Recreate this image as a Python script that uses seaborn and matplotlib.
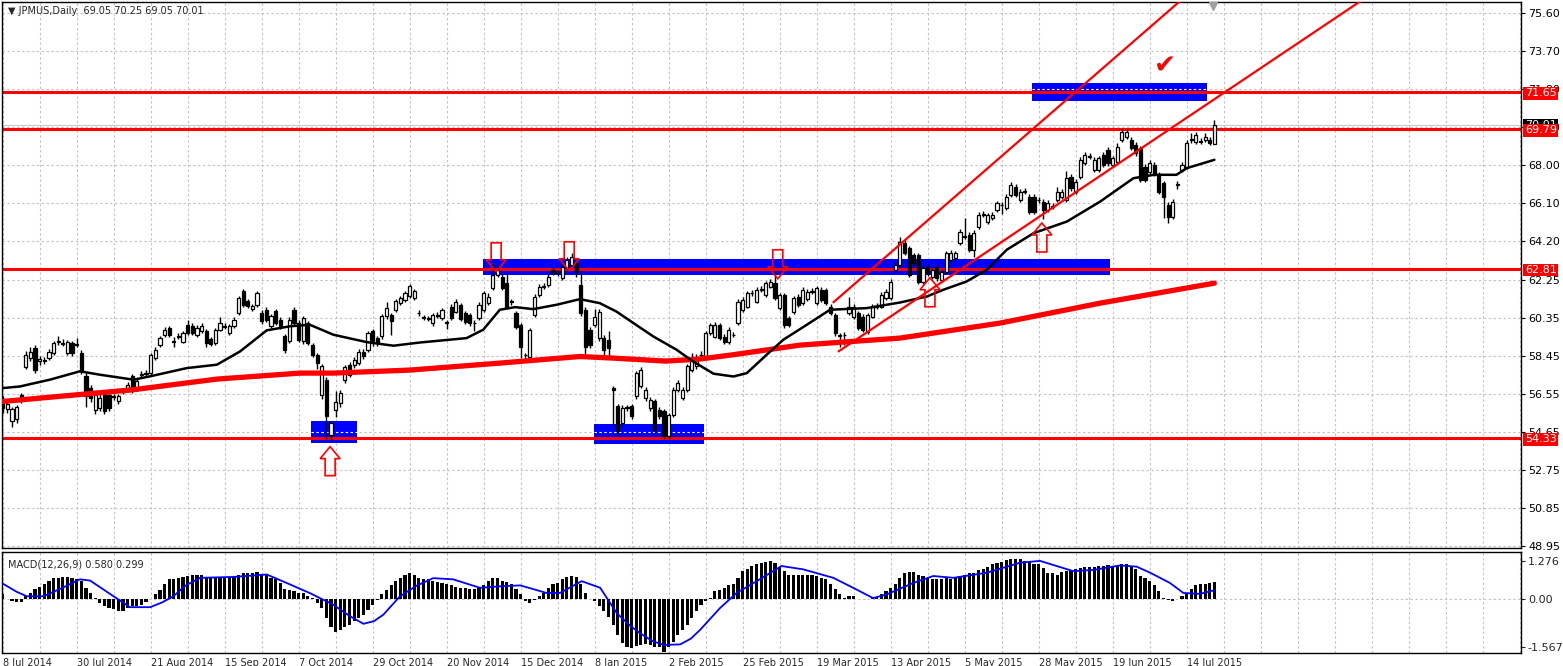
import matplotlib
matplotlib.use("Agg")
import matplotlib.pyplot as plt
import matplotlib.transforms as mtransforms
from matplotlib.patches import Rectangle, Polygon
import numpy as np
import seaborn as sns

# daily candles JPMUS, 8 Jul 2014 - 22 Jul 2015
opens = [
    56.30, 55.80, 55.20, 55.30, 56.50, 57.90, 58.35, 58.85, 58.20, 58.25,
    58.35, 58.60, 59.15, 59.10, 58.60, 59.10, 59.00, 58.60, 57.44, 56.85,
    55.77, 55.85, 56.60, 56.52, 56.44, 56.18, 56.65, 56.77, 57.44, 56.77,
    57.50, 57.55, 57.60, 58.35, 59.02, 59.52, 59.85, 59.20, 59.44, 59.18,
    60.02, 59.94, 59.52, 59.69, 59.69, 59.30, 59.10, 59.77, 59.90, 59.60,
    59.94, 60.60, 61.69, 61.19, 60.80, 61.02, 60.60, 60.77, 59.94, 60.69,
    60.27, 59.44, 59.20, 60.77, 60.10, 59.20, 60.10, 59.02, 58.52, 56.50,
    57.27, 54.52, 55.75, 56.10, 57.27, 58.02, 58.00, 58.10, 58.68, 58.77,
    59.69, 59.35, 59.44, 60.44, 60.50, 60.77, 61.10, 61.27, 61.44, 61.35,
    60.60, 60.40, 60.30, 60.10, 60.50, 60.35, 60.15, 60.93, 60.68, 61.00,
    60.60, 60.50, 60.10, 60.35, 60.77, 61.10, 61.85, 62.50, 62.43, 62.10,
    61.20, 60.60, 60.00, 58.50, 58.43, 60.52, 61.50, 61.93, 62.00, 62.77,
    62.60, 62.35, 62.85, 63.00, 63.10, 62.00, 60.77, 59.77, 60.00, 59.35,
    59.35, 59.27, 56.85, 55.93, 55.10, 55.85, 55.93, 56.43, 56.93, 56.35,
    55.85, 56.18, 55.77, 55.68, 54.43, 55.52, 56.77, 56.35, 56.77, 57.77,
    57.93, 58.50, 58.43, 59.60, 59.43, 60.00, 59.43, 59.18, 59.50, 60.10,
    60.77, 60.93, 61.60, 61.18, 61.77, 61.50, 61.93, 62.10, 60.85, 61.50,
    60.35, 60.68, 61.43, 61.10, 61.30, 61.68, 61.10, 61.77, 61.77, 60.93,
    60.52, 59.50, 59.50, 60.60, 60.43, 60.60, 60.43, 59.68, 60.43, 60.93,
    60.93, 61.35, 61.35, 62.77, 63.00, 64.10, 63.85, 63.50, 63.50, 62.18,
    62.93, 62.43, 62.93, 62.27, 62.68, 63.27, 63.35, 64.10, 64.43, 64.52,
    63.77, 64.93, 65.52, 65.18, 65.35, 65.77, 66.00, 65.85, 66.52, 66.93,
    66.27, 66.68, 66.43, 66.43, 66.27, 66.18, 65.77, 65.93, 66.27, 66.43,
    66.27, 67.43, 66.68, 67.43, 68.10, 68.43, 67.77, 67.77, 68.52, 68.77,
    68.02, 68.18, 69.27, 69.43, 69.27, 69.02, 68.85, 67.93, 67.68, 68.02,
    67.52, 67.10, 66.02, 65.43, 67.02, 67.77, 67.93, 69.27, 69.18, 69.18,
    69.27, 69.27, 69.05]
highs = [
    56.45, 56.20, 55.90, 56.00, 56.60, 58.70, 58.90, 59.00, 58.45, 58.40,
    58.80, 59.20, 59.45, 59.30, 59.25, 59.20, 59.35, 58.75, 57.60, 57.00,
    56.60, 56.55, 56.70, 56.65, 56.55, 56.55, 56.85, 57.15, 57.55, 57.30,
    57.70, 57.75, 58.60, 58.90, 59.45, 59.90, 59.95, 59.40, 59.60, 59.70,
    60.25, 60.10, 60.00, 60.10, 59.80, 59.40, 59.85, 60.40, 60.10, 60.05,
    60.40, 61.45, 61.80, 61.30, 61.05, 61.70, 60.75, 60.90, 60.55, 60.80,
    60.40, 59.55, 60.40, 60.90, 60.25, 60.45, 60.20, 59.10, 58.60, 58.05,
    57.40, 55.20, 56.70, 56.75, 58.00, 58.15, 58.40, 58.80, 58.80, 59.70,
    59.80, 59.45, 60.55, 61.15, 60.60, 61.30, 61.45, 61.70, 62.05, 61.80,
    60.75, 60.50, 60.45, 60.60, 60.65, 60.85, 60.25, 61.05, 61.30, 61.10,
    60.70, 60.60, 60.25, 61.15, 61.70, 61.60, 63.10, 63.00, 62.55, 62.60,
    61.30, 60.70, 60.10, 58.60, 59.85, 61.55, 62.05, 62.10, 62.55, 62.90,
    62.75, 63.05, 63.40, 63.60, 63.20, 62.60, 60.90, 59.90, 60.80, 60.80,
    59.50, 59.70, 56.95, 56.05, 56.00, 56.00, 56.05, 57.70, 57.90, 56.90,
    56.40, 56.30, 55.90, 55.80, 55.60, 56.90, 57.25, 56.90, 58.05, 58.60,
    58.55, 58.70, 59.70, 60.10, 60.15, 60.10, 59.55, 59.90, 59.65, 61.30,
    61.40, 61.70, 61.75, 61.90, 61.95, 62.20, 62.30, 62.68, 61.60, 61.60,
    60.45, 61.45, 61.55, 61.90, 61.80, 61.85, 61.95, 61.90, 61.85, 61.05,
    60.60, 59.60, 59.65, 61.43, 61.05, 60.70, 60.55, 60.60, 61.05, 61.10,
    61.65, 61.80, 62.30, 63.15, 64.43, 64.25, 63.95, 63.60, 63.60, 62.95,
    63.05, 62.90, 63.05, 62.80, 63.70, 63.75, 63.70, 64.80, 65.35, 64.65,
    64.75, 65.65, 65.70, 65.60, 65.65, 66.20, 66.15, 66.55, 67.15, 67.05,
    66.80, 66.85, 66.55, 66.55, 66.40, 66.30, 66.25, 66.10, 66.90, 66.80,
    67.70, 67.55, 67.30, 68.40, 68.65, 68.60, 68.40, 68.45, 68.65, 68.90,
    68.45, 69.10, 69.80, 69.80, 69.40, 69.15, 68.95, 68.05, 68.25, 68.15,
    67.65, 67.20, 66.15, 66.30, 67.20, 68.15, 69.25, 69.60, 69.65, 69.35,
    69.60, 69.40, 70.25]
lows = [
    55.60, 55.60, 54.90, 55.10, 56.10, 57.80, 58.20, 57.60, 58.00, 58.05,
    58.25, 58.50, 59.00, 58.95, 58.50, 58.45, 58.90, 57.55, 55.90, 56.15,
    55.55, 55.70, 55.55, 55.70, 56.25, 56.05, 56.55, 56.65, 56.60, 56.70,
    57.40, 57.45, 57.50, 58.25, 58.90, 59.40, 59.40, 58.90, 59.30, 59.10,
    59.50, 59.50, 59.40, 59.60, 58.90, 58.95, 59.00, 59.70, 59.80, 59.50,
    59.85, 60.50, 60.90, 60.85, 60.70, 60.90, 60.05, 60.15, 59.85, 60.00,
    59.80, 58.60, 59.10, 60.00, 59.15, 59.05, 59.00, 58.40, 57.80, 56.30,
    54.30, 54.20, 55.40, 55.90, 57.10, 57.40, 57.85, 58.00, 58.30, 58.65,
    58.95, 58.95, 59.30, 60.30, 59.50, 60.65, 61.00, 61.15, 61.35, 61.25,
    60.45, 60.25, 60.20, 59.95, 60.35, 60.25, 59.80, 60.25, 60.60, 60.20,
    60.05, 59.95, 59.70, 60.25, 60.65, 61.00, 61.75, 62.40, 61.75, 60.80,
    61.00, 59.80, 58.35, 58.30, 58.35, 60.40, 61.40, 61.80, 61.90, 62.50,
    62.45, 62.25, 62.75, 62.90, 62.40, 60.45, 58.40, 58.85, 59.90, 59.20,
    58.40, 58.45, 55.00, 54.50, 54.95, 55.70, 55.30, 56.30, 56.85, 56.20,
    55.70, 54.60, 55.30, 54.30, 54.30, 55.40, 56.65, 56.25, 56.65, 57.65,
    57.80, 58.40, 58.35, 59.50, 59.35, 59.25, 59.05, 59.05, 59.40, 60.00,
    60.65, 60.85, 61.45, 61.10, 61.65, 61.40, 61.85, 61.25, 60.75, 59.85,
    59.90, 60.55, 60.90, 61.00, 61.20, 61.55, 61.00, 61.15, 61.00, 60.50,
    59.45, 58.93, 59.00, 60.50, 60.30, 59.75, 59.65, 59.55, 60.35, 60.80,
    60.85, 61.25, 61.25, 62.65, 62.90, 63.50, 62.40, 62.95, 62.05, 62.05,
    62.45, 62.30, 62.20, 62.15, 62.55, 63.15, 63.25, 64.00, 64.30, 63.65,
    63.40, 64.80, 65.40, 65.05, 65.25, 65.65, 65.55, 65.75, 66.40, 66.40,
    66.15, 66.55, 65.55, 65.55, 66.10, 65.30, 65.65, 65.80, 66.15, 66.30,
    66.15, 66.70, 66.55, 67.30, 68.00, 68.30, 67.65, 67.65, 67.90, 67.95,
    67.90, 68.05, 69.15, 69.30, 68.75, 68.45, 67.15, 67.15, 67.55, 67.45,
    66.55, 65.35, 65.10, 65.30, 66.80, 67.65, 67.80, 69.10, 69.05, 69.05,
    69.15, 69.00, 69.05]
closes = [
    55.85, 56.05, 55.80, 55.90, 56.30, 58.50, 58.68, 57.77, 58.30, 58.20,
    58.68, 59.10, 59.20, 59.05, 59.18, 58.60, 59.05, 57.70, 56.44, 56.35,
    56.52, 56.35, 55.69, 55.85, 56.40, 56.44, 56.70, 57.02, 56.77, 57.18,
    57.52, 57.60, 58.52, 58.77, 59.35, 59.77, 59.52, 59.18, 59.40, 59.60,
    59.60, 59.60, 59.85, 59.94, 59.10, 59.07, 59.77, 60.10, 59.94, 59.97,
    60.27, 61.35, 61.02, 60.94, 60.94, 61.60, 60.19, 60.27, 60.44, 60.10,
    59.94, 58.77, 60.27, 60.10, 59.27, 60.35, 59.10, 58.52, 58.10, 57.97,
    55.44, 55.10, 56.15, 56.60, 57.90, 57.50, 58.27, 58.68, 58.44, 59.60,
    59.10, 59.10, 60.44, 60.85, 60.19, 61.19, 61.35, 61.60, 61.94, 61.69,
    60.60, 60.35, 60.35, 60.50, 60.45, 60.77, 60.10, 60.35, 61.18, 60.30,
    60.18, 60.10, 60.12, 61.00, 61.60, 61.40, 62.50, 62.77, 61.85, 60.93,
    61.15, 59.93, 58.93, 58.50, 59.77, 61.43, 61.93, 61.95, 62.43, 62.60,
    62.62, 62.93, 63.27, 63.43, 62.68, 60.60, 58.93, 59.00, 60.43, 60.68,
    58.77, 58.85, 56.75, 54.68, 55.85, 55.90, 55.43, 57.60, 57.77, 56.77,
    56.27, 54.77, 55.43, 54.43, 55.52, 56.77, 57.10, 56.77, 57.93, 58.43,
    58.43, 58.52, 59.60, 60.00, 60.00, 59.35, 59.18, 59.77, 59.52, 61.18,
    61.27, 61.60, 61.62, 61.77, 61.80, 62.10, 62.18, 61.35, 61.50, 60.00,
    60.00, 61.35, 61.00, 61.77, 61.68, 61.70, 61.85, 61.27, 61.10, 60.60,
    59.60, 59.45, 59.52, 60.93, 60.93, 59.85, 59.77, 60.50, 60.93, 60.95,
    61.52, 61.68, 62.18, 63.00, 64.18, 63.60, 62.52, 63.10, 62.18, 62.85,
    62.60, 62.77, 62.35, 62.68, 63.60, 63.60, 63.60, 64.68, 64.45, 63.77,
    64.60, 65.52, 65.55, 65.52, 65.52, 66.10, 66.02, 66.43, 67.02, 66.52,
    66.68, 66.70, 65.68, 65.68, 66.25, 65.77, 66.10, 65.95, 66.68, 66.68,
    67.35, 66.85, 67.18, 68.27, 68.52, 68.45, 68.27, 68.35, 68.02, 68.10,
    68.35, 68.93, 69.68, 69.68, 68.85, 68.60, 67.27, 67.27, 68.10, 67.60,
    66.68, 66.43, 65.43, 66.18, 67.05, 68.02, 69.10, 69.30, 69.52, 69.20,
    69.43, 69.10, 70.01]

# MACD(12,26,9) histogram, one value per candle
macd_hist = [
    0.16, 0.00, -0.07, -0.10, -0.08, 0.10, 0.20, 0.35, 0.41, 0.49,
    0.60, 0.69, 0.72, 0.74, 0.73, 0.69, 0.68, 0.60, 0.38, 0.21,
    0.04, -0.12, -0.23, -0.29, -0.32, -0.37, -0.37, -0.29, -0.23, -0.21,
    -0.18, -0.10, 0.00, 0.18, 0.32, 0.49, 0.66, 0.68, 0.70, 0.73,
    0.77, 0.79, 0.80, 0.82, 0.73, 0.70, 0.71, 0.74, 0.73, 0.74,
    0.74, 0.79, 0.88, 0.88, 0.88, 0.90, 0.82, 0.79, 0.69, 0.66,
    0.54, 0.35, 0.32, 0.27, 0.21, 0.21, 0.12, 0.04, -0.12, -0.29,
    -0.62, -0.90, -1.07, -1.01, -0.90, -0.84, -0.73, -0.62, -0.51, -0.34,
    -0.18, -0.03, 0.16, 0.32, 0.46, 0.60, 0.71, 0.82, 0.88, 0.82,
    0.71, 0.66, 0.66, 0.60, 0.57, 0.54, 0.49, 0.46, 0.41, 0.38,
    0.36, 0.34, 0.34, 0.38, 0.46, 0.60, 0.69, 0.71, 0.60, 0.57,
    0.49, 0.34, 0.16, -0.07, -0.12, -0.03, 0.12, 0.21, 0.38, 0.49,
    0.54, 0.66, 0.73, 0.77, 0.74, 0.52, 0.21, 0.00, -0.07, -0.23,
    -0.40, -0.57, -0.84, -1.18, -1.46, -1.57, -1.62, -1.54, -1.51, -1.49,
    -1.51, -1.57, -1.59, -1.73, -1.57, -1.40, -1.18, -1.01, -0.84, -0.62,
    -0.40, -0.18, -0.07, 0.04, 0.27, 0.32, 0.38, 0.47, 0.49, 0.71,
    0.93, 1.01, 1.10, 1.16, 1.21, 1.24, 1.27, 1.19, 1.08, 0.93,
    0.82, 0.79, 0.79, 0.79, 0.80, 0.80, 0.77, 0.71, 0.68, 0.52,
    0.34, 0.16, 0.04, 0.10, 0.10, 0.02, 0.01, 0.02, 0.04, 0.07,
    0.16, 0.27, 0.38, 0.52, 0.71, 0.88, 0.90, 0.91, 0.82, 0.77,
    0.71, 0.68, 0.66, 0.68, 0.69, 0.68, 0.69, 0.77, 0.82, 0.86,
    0.88, 0.97, 1.01, 1.08, 1.16, 1.21, 1.23, 1.30, 1.34, 1.32,
    1.32, 1.27, 1.23, 1.16, 1.16, 1.05, 0.88, 0.86, 0.82, 0.90,
    0.93, 0.97, 0.99, 1.04, 1.08, 1.08, 1.08, 1.10, 1.10, 1.12,
    1.08, 1.12, 1.16, 1.16, 1.08, 0.99, 0.77, 0.71, 0.60, 0.46,
    0.27, 0.04, -0.03, -0.07, 0.01, 0.10, 0.21, 0.34, 0.46, 0.50,
    0.52, 0.55, 0.58]

# MACD signal line, read at sample bars
signal_bar = [0, 3, 5.2, 8.8, 12.5, 16.7, 18.9, 23, 27.5, 31.9, 34.5, 36.9, 39.5, 42.7,
              49.9, 57.1, 61.4, 66.5, 71.5, 75, 78, 80.3, 82.3, 85.9, 89.5, 93.1, 97.4,
              103.2, 107.5, 111.9, 117.6, 120.5, 125.2, 129.2, 132.8, 135.5, 137.8,
              140.5, 142.9, 146.5, 148.8, 150.8, 155.1, 158.7, 163.7, 168.4, 173.1,
              179.6, 183.9, 188.2, 191.1, 196.9, 201.2, 205.6, 212.8, 220, 224.3,
              231.5, 235.8, 241.6, 245.2, 248.1, 252.4, 255.3, 258.9, 262]
signal_val = [0.52, 0.25, 0.10, 0.10, 0.35, 0.66, 0.62, 0.20, -0.26, -0.26, -0.10, 0.10,
              0.45, 0.71, 0.74, 0.82, 0.54, 0.20, -0.18, -0.55, -0.81, -0.72, -0.51, 0.10,
              0.45, 0.70, 0.66, 0.38, 0.43, 0.46, 0.21, 0.21, 0.60, 0.38, -0.46, -0.85,
              -1.12, -1.38, -1.51, -1.49, -1.30, -1.01, -0.29, 0.21, 0.66, 1.10, 0.99,
              0.71, 0.38, 0.04, 0.16, 0.54, 0.77, 0.71, 0.88, 1.21, 1.27, 0.93, 0.97,
              1.12, 1.08, 0.88, 0.54, 0.21, 0.18, 0.30]

# black (fast) moving average, read at sample bars
ma_fast_bar = [0, 3.7, 10.2, 16.7, 21, 28.3, 31.9, 39.8, 46.3, 51.3, 57.1, 62.1, 66.4,
               71.5, 78.7, 84.5, 90.2, 100.3, 103.9, 107.5, 110.8, 114.7, 119.8, 124.8,
               129.1, 132.7, 136.4, 140.7, 145.7, 149.3, 153.7, 158, 160.9, 165.2, 168.8,
               172.4, 178.9, 186.8, 194, 199.8, 203.4, 208.4, 212.8, 217.1, 222.9, 230.1,
               237.3, 244.5, 248.9, 253.8, 256, 262]
ma_fast_val = [56.85, 56.93, 57.27, 57.69, 57.52, 57.27, 57.44, 57.85, 58.02, 58.68, 59.74,
               59.94, 60.02, 59.52, 59.15, 58.97, 59.13, 59.35, 59.77, 60.77, 60.90, 60.80,
               61.02, 61.30, 61.10, 60.68, 60.10, 59.43, 58.77, 58.18, 57.57, 57.43, 57.60,
               58.52, 59.27, 59.80, 60.77, 60.85, 61.13, 61.43, 61.77, 62.18, 62.77, 63.77,
               64.60, 65.18, 66.18, 67.35, 67.52, 67.52, 67.85, 68.27]

# red (slow) moving average
ma_slow_bar = [0, 28.3, 46.3, 64.3, 71.5, 88, 107.5, 124.8, 132, 143.4, 150.6, 158,
               172.4, 194, 215.6, 237.3, 262]
ma_slow_val = [56.18, 56.77, 57.30, 57.60, 57.60, 57.75, 58.10, 58.43, 58.35, 58.20,
               58.30, 58.52, 59.00, 59.35, 60.10, 61.10, 62.10]

date_labels = ['8 Jul 2014', '30 Jul 2014', '21 Aug 2014', '15 Sep 2014', '7 Oct 2014',
               '29 Oct 2014', '20 Nov 2014', '15 Dec 2014', '8 Jan 2015', '2 Feb 2015',
               '25 Feb 2015', '19 Mar 2015', '13 Apr 2015', '5 May 2015', '28 May 2015',
               '19 Jun 2015', '14 Jul 2015']
price_ticks = [75.60, 73.70, 71.80, 69.90, 68.00, 66.10, 64.20, 62.25, 60.35,
               58.45, 56.55, 54.65, 52.75, 50.85, 48.95]
levels = [71.65, 69.79, 62.81, 54.33]
last_price = 70.01

# ---- layout (pixel based, 1563x666) ----
W, H = 1563, 666
sns.set_style("white")
plt.rcParams['font.family'] = ['DejaVu Sans']
fig = plt.figure(figsize=(W / 100, H / 100), dpi=100)
fig.patch.set_facecolor('white')

left, right = 2, 1521
ax = fig.add_axes([left / W, 1 - 548 / H, (right - left) / W, (548 - 2) / H])
ax2 = fig.add_axes([left / W, 1 - 653 / H, (right - left) / W, (653 - 552) / H], sharex=ax)

RED = '#ff0000'
BLUE = '#0000ff'
GRID = '#c4c4c4'
dash = (0, (2.2, 2.2))

n = len(closes)
idx = np.arange(n)
o = np.array(opens); c = np.array(closes); hi = np.array(highs); lo = np.array(lows)

xmin, xmax = -0.15, 328.3
ax.set_xlim(xmin, xmax)
ax.set_ylim(48.85, 76.165)
ax2.set_ylim(-1.775, 1.564)

# grid: vertical every 8 bars, horizontal at price ticks
for a in (ax, ax2):
    a.set_xticks(np.arange(0, 329, 16))
    a.set_xticks(np.arange(8, 329, 16), minor=True)
    a.grid(True, which='both', axis='x', color=GRID, linestyle=dash, linewidth=0.8)
    a.set_axisbelow(True)
    for s in a.spines.values():
        s.set_color('black')
        s.set_linewidth(1)
ax.set_yticks(price_ticks)
ax.set_yticklabels([f'{t:.2f}' for t in price_ticks])
ax.grid(True, axis='y', color=GRID, linestyle=dash, linewidth=0.8)
ax.yaxis.tick_right()
ax.tick_params(axis='y', length=3, labelsize=8, pad=2, colors='black')
ax.tick_params(axis='x', which='both', length=0, labelbottom=False)

ax2.yaxis.tick_right()
ax2.set_yticks([1.276, 0.0, -1.567])
ax2.set_yticklabels(['1.276', '0.00', '-1.567'])
ax2.tick_params(axis='y', length=3, labelsize=8, pad=2)
ax2.axhline(0, color=GRID, linestyle=dash, linewidth=0.8, zorder=0.5)
labels = date_labels + [''] * (len(np.arange(0, 329, 16)) - len(date_labels))
ax2.set_xticklabels(labels, ha='left', fontsize=7)
ax2.tick_params(axis='x', which='major', length=3, pad=0.5)
ax2.tick_params(axis='x', which='minor', length=0)

# ---- objects: support/resistance zones ----
zones = [(222.5, 260.4, 71.21, 72.11), (103.9, 239.4, 62.51, 63.31),
         (66.7, 76.6, 54.11, 55.21), (127.9, 151.6, 54.07, 55.06)]
for x0, x1, y0, y1 in zones:
    ax.add_patch(Rectangle((x0, y0), x1 - x0, y1 - y0, facecolor=BLUE, edgecolor='none', zorder=1))
    for t in price_ticks:
        if y0 < t < y1:
            ax.hlines(t, x0, x1, color='white', linestyle=dash, linewidth=0.8, zorder=1.2)

ax.axhline(last_price, color='#c8c8c8', linewidth=0.8, zorder=1.3)
for lv in levels:
    ax.axhline(lv, color=RED, linewidth=2.2, zorder=2)

# ---- candles ----
bull = c >= o
body_lo = np.minimum(o, c)
body_h = np.maximum(np.abs(c - o), 0.03)
ax.vlines(idx, lo, hi, color='black', linewidth=1.0, zorder=3)
ax.bar(idx[bull], body_h[bull], bottom=body_lo[bull], width=0.68, color='white',
       edgecolor='black', linewidth=0.9, zorder=3.5)
ax.bar(idx[~bull], body_h[~bull], bottom=body_lo[~bull], width=0.68, color='black',
       edgecolor='black', linewidth=0.9, zorder=3.5)

# moving averages
sns.lineplot(x=ma_slow_bar, y=ma_slow_val, ax=ax, color=RED, linewidth=3.8, sort=False,
             estimator=None, zorder=4)
sns.lineplot(x=ma_fast_bar, y=ma_fast_val, ax=ax, color='black', linewidth=1.8, sort=False,
             estimator=None, zorder=4.2)

# trend channel lines
trend_lines = [((179.5, 61.115), (258.0, 76.90)), ((180.6, 58.665), (296.0, 76.58))]
for (x0, y0), (x1, y1) in trend_lines:
    ax.plot([x0, x1], [y0, y1], color=RED, linewidth=1.6, zorder=4.5, solid_capstyle='butt')

# hollow arrows (tip bar, tip price, direction)
PXB, PXP = 1 / 4.625, 1 / 20.0
arrows = [(106.7, 62.67, -1), (122.5, 62.72, -1), (167.6, 62.32, -1),
          (70.8, 53.92, 1), (200.5, 62.37, 1), (224.7, 65.11, 1)]
for xb, tip, d in arrows:
    hw, sw = 10 * PXB, 5 * PXB
    hl, sl = 12 * PXP, 17 * PXP
    s = -d  # body lies opposite to pointing direction
    pts = [(xb, tip), (xb - hw, tip + s * hl), (xb - sw, tip + s * hl),
           (xb - sw, tip + s * (hl + sl)), (xb + sw, tip + s * (hl + sl)),
           (xb + sw, tip + s * hl), (xb + hw, tip + s * hl)]
    ax.add_patch(Polygon(pts, closed=True, fill=False, edgecolor=RED, linewidth=1.2, zorder=5))

ax.text(251.3, 72.95, '\u2714', color=RED, fontsize=19, ha='center', va='center', zorder=5)

# chart-shift marker at top
ax.plot([261.7], [0.993], marker='v', color='#a0a0a0', markersize=6,
        transform=mtransforms.blended_transform_factory(ax.transData, ax.transAxes),
        clip_on=False, zorder=6)

# price labels on the right scale
trans = mtransforms.blended_transform_factory(ax.transAxes, ax.transData)
ax.text(1.0025, last_price, f'{last_price:.2f}', transform=trans, color='white', fontsize=8,
        va='center', ha='left', clip_on=False, zorder=7,
        bbox=dict(boxstyle='square,pad=0.12', fc='black', ec='none'))
for lv in levels:
    ax.text(1.0025, lv - 0.05, f'{lv:.2f}', transform=trans, color='white', fontsize=8,
            va='center', ha='left', clip_on=False, zorder=8,
            bbox=dict(boxstyle='square,pad=0.12', fc=RED, ec='none'))

ax.text(0.004, 0.992, '\u25bc JPMUS,Daily  69.05 70.25 69.05 70.01', transform=ax.transAxes,
        fontsize=7, va='top', ha='left', zorder=9)

# ---- MACD panel ----
ax2.bar(idx, macd_hist, width=0.68, color='black', linewidth=0, zorder=2)
sns.lineplot(x=signal_bar, y=signal_val, ax=ax2, color='#0000ff', linewidth=1.3, sort=False,
             estimator=None, zorder=3)
ax2.set_xlim(xmin, xmax)
ax2.set_xlabel('')
ax2.set_ylabel('')
ax.set_xlabel('')
ax.set_ylabel('')
ax2.text(0.004, 0.93, 'MACD(12,26,9) 0.580 0.299', transform=ax2.transAxes, fontsize=7,
         va='top', ha='left')

fig.savefig('out.png', dpi=100, facecolor='white')
